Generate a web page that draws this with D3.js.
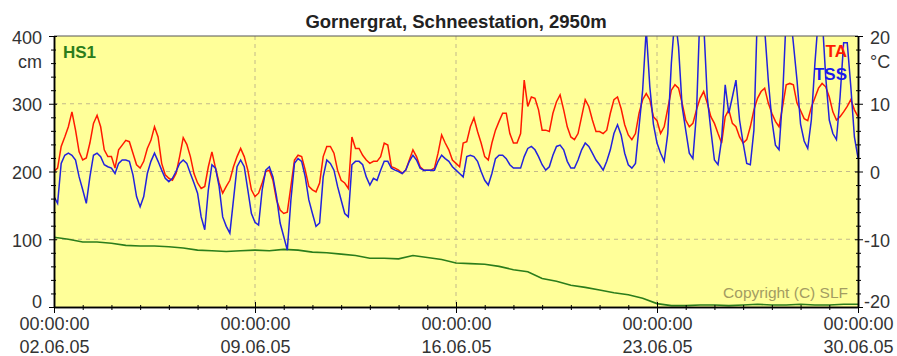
<!DOCTYPE html>
<html>
<head>
<meta charset="utf-8">
<script src="https://cdn.jsdelivr.net/npm/d3@7"></script>
<style>
  body { margin: 0; background: #fff; }
  svg { display: block; font-family: "Liberation Sans", Arial, sans-serif; }
</style>
</head>
<body>
<svg width="897" height="356"></svg>
<script>
// Gornergrat snow station, 02.06.05 - 30.06.05
// temperature series sampled every 3 hours (8 values per day)
const taValues = [
  0.0, 0.5, 3.7, 5.1, 6.6, 8.8, 6.1, 2.9,
  1.7, 2.0, 4.2, 7.1, 8.3, 6.6, 3.2, 2.2,
  2.2, 0.5, 3.2, 3.9, 4.6, 4.4, 2.7, 1.0,
  0.5, 1.5, 3.4, 4.6, 6.6, 5.1, 1.2, -0.5,
  -1.0, -1.3, -0.3, 2.2, 5.0, 4.0, 2.2, -0.3,
  -1.7, -2.5, -2.2, 0.7, 2.9, 0.5, -1.7, -3.2,
  -2.2, -1.3, 0.7, 2.2, 3.4, 2.2, 0.2, -2.7,
  -3.7, -3.2, -1.7, 0.0, 0.2, -1.3, -4.2, -5.7,
  -6.2, -6.0, -2.2, 1.7, 2.4, 2.2, 0.2, -2.2,
  -2.7, -3.0, -1.7, 2.2, 3.7, 3.7, 2.7, 0.2,
  -1.3, -1.7, -2.5, 5.1, 3.4, 3.4, 2.4, 1.7,
  1.2, 1.5, 1.5, 2.2, 4.2, 3.9, 0.7, 0.5,
  0.2, -0.3, 0.2, 1.7, 3.2, 2.2, 0.7, 0.2,
  0.2, 0.2, 0.5, 2.7, 5.4, 4.2, 3.2, 1.7,
  1.2, 0.7, 4.2, 4.4, 6.6, 7.9, 5.9, 4.2,
  2.2, 1.7, 4.2, 6.1, 7.4, 8.6, 8.6, 5.6,
  4.2, 4.2, 5.6, 13.5, 9.6, 11.0, 10.8, 9.1,
  6.1, 6.1, 5.9, 8.6, 10.3, 11.3, 9.1, 6.6,
  5.1, 4.7, 5.6, 8.1, 10.6, 9.6, 7.6, 5.9,
  5.9, 5.6, 6.1, 8.6, 10.6, 11.0, 9.3, 6.9,
  5.4, 4.7, 5.6, 8.6, 10.6, 11.5, 10.6, 8.1,
  7.5, 5.6, 6.6, 9.3, 12.0, 12.8, 12.3, 10.1,
  7.6, 6.6, 7.1, 9.1, 10.8, 11.8, 10.1, 8.1,
  7.1, 5.6, 4.2, 8.1, 9.1, 7.1, 6.6, 5.1,
  4.2, 4.7, 6.6, 9.1, 10.8, 11.8, 12.3, 10.1,
  8.6, 7.4, 6.6, 9.6, 12.8, 13.0, 12.8, 10.1,
  9.0, 7.8, 7.5, 9.5, 10.9, 12.3, 13.0, 12.5,
  11.0, 8.8, 7.6, 8.1, 8.8, 9.6, 10.6, 9.1,
  8.1
];

const tssValues = [
  -3.7, -4.7, 1.2, 2.4, 2.7, 2.4, 1.7, -0.8,
  -2.7, -4.7, -0.8, 2.4, 2.7, 2.2, 1.0, 0.7,
  0.5, -0.3, 1.2, 1.7, 1.7, 1.5, -0.5, -3.7,
  -5.2, -3.7, -0.3, 1.5, 2.7, 1.5, 0.2, -1.0,
  -1.5, -1.0, 0.0, 1.2, 1.7, 1.2, -0.3, -1.7,
  -3.2, -6.7, -8.6, -2.7, 1.0, 0.5, -2.2, -6.7,
  -8.1, -9.1, -4.2, 0.7, 1.7, 0.7, -2.7, -6.2,
  -7.5, -7.9, -2.7, 0.2, 0.7, -0.8, -3.7, -7.6,
  -9.6, -11.6, -4.2, 1.2, 1.9, 1.5, -0.8, -4.2,
  -6.2, -8.1, -7.6, -0.8, 1.7, 1.2, 0.2, -2.2,
  -4.2, -6.2, -6.7, 1.0, 1.5, 1.5, 1.0, -0.8,
  -2.0, -1.0, -1.3, 0.2, 1.5, 1.5, 0.5, 0.2,
  0.0, -0.3, 0.2, 1.5, 2.4, 1.7, 0.5, 0.2,
  0.2, 0.2, 0.2, 1.5, 2.4, 1.9, 1.5, 0.7,
  0.2, -0.3, -0.8, 2.2, 2.4, 2.2, 1.5, 0.0,
  -1.3, -2.0, -0.3, 1.9, 2.4, 2.4, 1.9, 1.0,
  0.5, 0.5, 0.5, 2.2, 3.4, 3.7, 3.2, 2.2,
  1.0, 0.2, 0.7, 2.4, 3.7, 3.9, 3.2, 1.5,
  0.5, 0.5, 1.7, 3.2, 4.2, 3.7, 2.7, 1.7,
  1.0, 0.2, 1.5, 3.2, 5.6, 6.9, 5.4, 2.7,
  1.0, 0.5, 1.2, 6.6, 12.0, 21.0, 12.5, 7.0,
  4.2, 2.7, 1.5, 5.6, 16.0, 23.0, 18.4, 9.6,
  6.1, 2.7, 1.9, 8.6, 24.0, 22.0, 11.0, 6.1,
  1.7, 1.0, 4.7, 12.8, 8.6, 11.0, 13.5, 7.6,
  4.2, 1.2, 1.0, 6.1, 24.0, 25.0, 21.0, 13.5,
  7.6, 3.9, 3.2, 11.0, 23.0, 24.0, 18.9, 13.5,
  7.0, 4.5, 3.4, 7.6, 16.0, 23.0, 23.0, 14.0,
  7.6, 5.6, 4.7, 11.0, 19.0, 19.0, 12.5, 5.1,
  2.0
];

// snow height, every 12 hours
const hsValues = [
  103, 100, 96, 96, 94, 91, 90, 90, 89, 87,
  84, 83, 82, 83, 84, 83, 85, 84, 81, 80,
  78, 76, 72, 72, 71, 76, 73, 70, 65, 64,
  63, 60, 55, 52, 42, 38, 32, 29, 25, 21,
  18, 13, 5, 2, 2, 3, 3, 2, 3, 4,
  3, 3, 4, 3, 3, 4, 4
];

const leftTicks = [0, 100, 200, 300, 400];
const rightTicks = [-20, -10, 0, 10, 20];
const dateLabels = ['02.06.05', '09.06.05', '16.06.05', '23.06.05', '30.06.05'];

const width = 897;
const height = 356;
const plot = { left: 54, right: 858, top: 36, bottom: 307 };

const t0 = new Date(Date.UTC(2005, 5, 2));
const t1 = new Date(Date.UTC(2005, 5, 30));
const tempTimes = taValues.map((v, i) => d3.utcHour.offset(t0, 3 * i));
const hsTimes = hsValues.map((v, i) => d3.utcHour.offset(t0, 12 * i));

const svg = d3.select('svg');

const x = d3.scaleUtc().domain([t0, t1]).range([plot.left, plot.right]);
const yLeft = d3.scaleLinear().domain([0, 400]).range([plot.bottom, plot.top]);
const yRight = d3.scaleLinear().domain([-20, 20]).range([plot.bottom, plot.top]);

// Background of the plot area
svg.append('rect')
    .attr('x', plot.left)
    .attr('y', plot.top)
    .attr('width', plot.right - plot.left)
    .attr('height', plot.bottom - plot.top)
    .style('fill', '#ffff99');

svg.append('clipPath').attr('id', 'clip')
    .append('rect')
    .attr('x', plot.left)
    .attr('y', plot.top)
    .attr('width', plot.right - plot.left)
    .attr('height', plot.bottom - plot.top);

// Dashed grid
const weekTicks = d3.utcDay.range(t0, d3.utcDay.offset(t1, 1), 7);
const grid = svg.append('g').style('stroke', '#c2b98a').style('stroke-dasharray', '4,4');
grid.selectAll('.vgrid')
    .data(weekTicks.slice(1, -1))
    .enter().append('line')
    .attr('x1', d => x(d)).attr('x2', d => x(d))
    .attr('y1', plot.top).attr('y2', plot.bottom);
grid.selectAll('.hgrid')
    .data([100, 200, 300])
    .enter().append('line')
    .attr('x1', plot.left).attr('x2', plot.right)
    .attr('y1', d => yLeft(d)).attr('y2', d => yLeft(d));

// Lines
const lines = svg.append('g').attr('clip-path', 'url(#clip)');

lines.append('path')
    .datum(hsValues)
    .attr('d', d3.line().x((d, i) => x(hsTimes[i])).y(d => yLeft(d)))
    .style('fill', 'none')
    .style('stroke', '#2b7d1b')
    .style('stroke-width', 1.6);

lines.append('path')
    .datum(taValues)
    .attr('d', d3.line().x((d, i) => x(tempTimes[i])).y(d => yRight(d)))
    .style('fill', 'none')
    .style('stroke', '#ff1a00')
    .style('stroke-width', 1.5);

lines.append('path')
    .datum(tssValues)
    .attr('d', d3.line().x((d, i) => x(tempTimes[i])).y(d => yRight(d)))
    .style('fill', 'none')
    .style('stroke', '#2222dd')
    .style('stroke-width', 1.5);

// Top border
svg.append('line')
    .attr('x1', plot.left).attr('x2', plot.right)
    .attr('y1', plot.top).attr('y2', plot.top)
    .style('stroke', '#555');

// Axes (ticks cross the axis line)
function styleAxis(g) {
    g.select('.domain').style('stroke', '#000').style('stroke-width', 1.5);
    g.selectAll('.tick line').style('stroke', '#000');
}

const dayTicks = d3.utcDay.range(t0, d3.utcDay.offset(t1, 1)).filter(d => d.getUTCDay() !== t0.getUTCDay());

svg.append('g')
    .attr('transform', `translate(0,${plot.bottom})`)
    .call(d3.axisBottom(x).tickValues(dayTicks).tickSize(3).tickSizeOuter(0).tickFormat(''))
    .call(styleAxis)
    .call(g => g.selectAll('.tick line').attr('y1', -2));

const xAxis = svg.append('g')
    .attr('transform', `translate(0,${plot.bottom})`)
    .call(d3.axisBottom(x).tickValues(weekTicks).tickSize(6).tickSizeOuter(0).tickFormat(''))
    .call(styleAxis)
    .call(g => g.selectAll('.tick line').attr('y1', -5));

xAxis.selectAll('.tick text').remove();
xAxis.selectAll('.tick').append('text')
    .style('fill', '#333')
    .style('font-size', '18px')
    .attr('text-anchor', 'middle')
    .each(function (d, i) {
        const t = d3.select(this);
        t.append('tspan').attr('x', 0).attr('y', 23).text('00:00:00');
        t.append('tspan').attr('x', 0).attr('y', 46).text(dateLabels[i]);
    });

const leftMinor = d3.range(0, 401, 20).filter(v => v % 100 !== 0);
svg.append('g')
    .attr('transform', `translate(${plot.left},0)`)
    .call(d3.axisLeft(yLeft).tickValues(leftMinor).tickSize(3).tickSizeOuter(0).tickFormat(''))
    .call(styleAxis)
    .call(g => g.selectAll('.tick line').attr('x1', 2));

svg.append('g')
    .attr('transform', `translate(${plot.left},0)`)
    .call(d3.axisLeft(yLeft).tickValues(leftTicks).tickSize(5).tickSizeOuter(0).tickPadding(7))
    .call(styleAxis)
    .call(g => g.selectAll('.tick line').attr('x1', 3))
    .call(g => g.selectAll('.tick text')
        .style('fill', '#333')
        .style('font-size', '18px')
        .style('font-family', '"Liberation Sans", Arial, sans-serif')
        .attr('dy', null)
        .attr('y', d => d === 0 ? 0 : 7));

const rightMinor = d3.range(-20, 21, 2).filter(v => v % 10 !== 0);
svg.append('g')
    .attr('transform', `translate(${plot.right},0)`)
    .call(d3.axisRight(yRight).tickValues(rightMinor).tickSize(3).tickSizeOuter(0).tickFormat(''))
    .call(styleAxis)
    .call(g => g.selectAll('.tick line').attr('x1', -2));

svg.append('g')
    .attr('transform', `translate(${plot.right},0)`)
    .call(d3.axisRight(yRight).tickValues(rightTicks).tickSize(5).tickSizeOuter(0))
    .call(styleAxis)
    .call(g => g.selectAll('.tick line').attr('x1', -3))
    .call(g => g.selectAll('.tick text')
        .style('fill', '#333')
        .style('font-size', '18px')
        .style('font-family', '"Liberation Sans", Arial, sans-serif')
        .attr('dy', null)
        .attr('x', d => d < 0 ? 6 : 12)
        .attr('y', d => d === -20 ? 0 : 7)
        .text(d => d < 0 ? '-' + Math.abs(d) : d));

// Units
svg.append('text')
    .attr('x', 42).attr('y', 68)
    .attr('text-anchor', 'end')
    .style('font-size', '18px').style('fill', '#333')
    .text('cm');

svg.append('text')
    .attr('x', 870).attr('y', 68)
    .style('font-size', '18px').style('fill', '#333')
    .text('°C');

// Series labels
svg.append('text')
    .attr('x', 63).attr('y', 58)
    .style('font-size', '17px').style('font-weight', 'bold').style('fill', '#2b7d1b')
    .text('HS1');

svg.append('text')
    .attr('x', 847).attr('y', 57)
    .attr('text-anchor', 'end')
    .style('font-size', '17px').style('font-weight', 'bold').style('fill', '#ff1a00')
    .text('TA');

svg.append('text')
    .attr('x', 847).attr('y', 80)
    .attr('text-anchor', 'end')
    .style('font-size', '17px').style('font-weight', 'bold').style('fill', '#1a1aee')
    .text('TSS');

svg.append('text')
    .attr('x', 848).attr('y', 298)
    .attr('text-anchor', 'end')
    .style('font-size', '15.5px').style('fill', '#a39c62')
    .text('Copyright (C) SLF');

// Title
svg.append('text')
    .attr('x', (plot.left + plot.right) / 2)
    .attr('y', 28)
    .attr('text-anchor', 'middle')
    .style('font-size', '18.5px')
    .style('font-weight', 'bold')
    .style('fill', '#222')
    .text('Gornergrat, Schneestation, 2950m');
</script>
</body>
</html>
